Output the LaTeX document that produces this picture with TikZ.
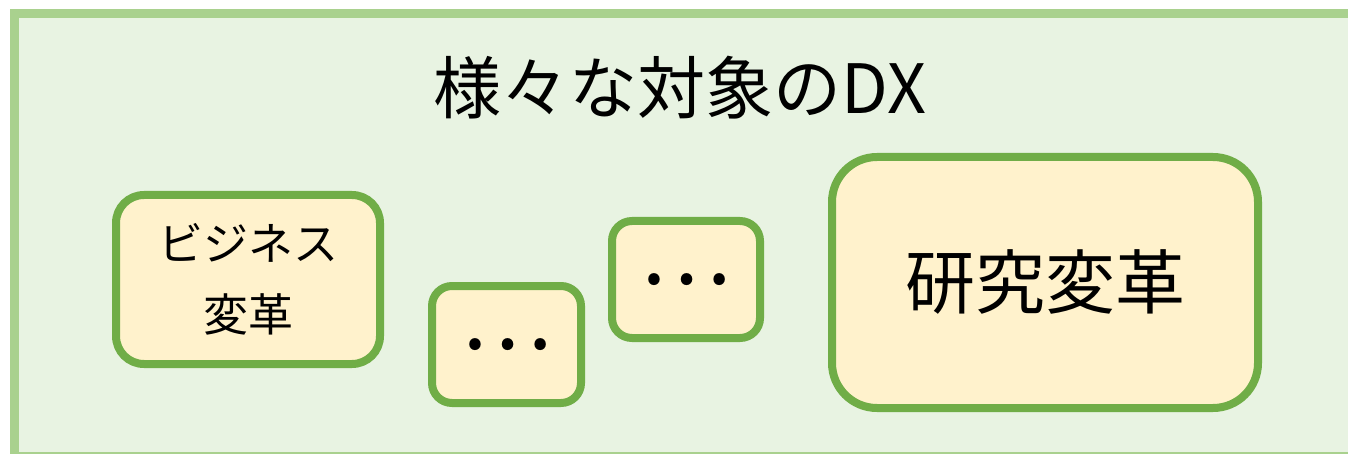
\documentclass[tikz,border=0pt]{standalone}
\usepackage{fontspec}
\setmainfont{Noto Sans CJK JP}
\definecolor{outerfill}{HTML}{E8F3E2}
\definecolor{outerline}{HTML}{A9D18E}
\definecolor{boxfill}{HTML}{FFF2CC}
\definecolor{boxline}{HTML}{70AD47}
\tikzset{
  itembox/.style={draw=boxline, fill=boxfill, line width=8pt, inner sep=0pt, align=center, text=black},
}
\begin{document}
\begin{tikzpicture}[x=1pt,y=-1pt]
\useasboundingbox (0,0) rectangle (1348,454);
\clip (0,0) rectangle (1348,454);
\draw[draw=outerline, fill=outerfill, line width=8.5pt] (14.5,13.5) rectangle (1400,456);
\node[text=black, font=\fontsize{68}{74}\selectfont] (title) at (680,88) {様々な対象のDX};
\node[itembox, rounded corners=28pt, minimum width=264pt, minimum height=169pt,
      font=\fontsize{45}{71}\selectfont] (biz) at (248,279.5) {ビジネス\\変革};
\node[itembox, rounded corners=20pt, minimum width=149pt, minimum height=117pt,
      font=\fontsize{87}{90}\selectfont] (dotsA) at (506.5,344.5) {…};
\node[itembox, rounded corners=20pt, minimum width=148pt, minimum height=117pt,
      font=\fontsize{87}{90}\selectfont] (dotsB) at (686,279.5) {…};
\node[itembox, rounded corners=45pt, minimum width=426pt, minimum height=251pt,
      font=\fontsize{70}{76}\selectfont] (res) at (1045,282.5) {研究変革};
\end{tikzpicture}
\end{document}
